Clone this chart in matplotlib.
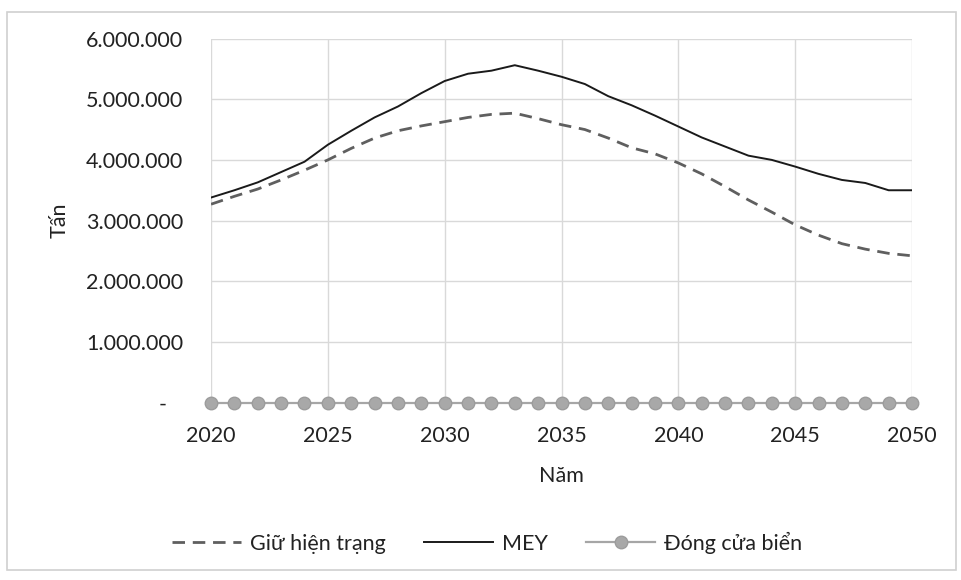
import matplotlib
matplotlib.use("Agg")
import matplotlib.pyplot as plt
from matplotlib.patches import Rectangle

plt.rcParams['font.family'] = ['Lato', 'DejaVu Sans']

years = list(range(2020, 2051))

# Catch (tonnes) under each management scenario
giu_hien_trang = [3.27, 3.40, 3.52, 3.67, 3.83, 4.00, 4.19, 4.36, 4.48, 4.56,
                  4.63, 4.70, 4.75, 4.77, 4.68, 4.58, 4.50, 4.36, 4.20, 4.10,
                  3.95, 3.77, 3.56, 3.34, 3.14, 2.93, 2.76, 2.62, 2.53, 2.46, 2.42]
mey = [3.38, 3.50, 3.63, 3.80, 3.97, 4.25, 4.48, 4.70, 4.88, 5.10,
       5.30, 5.42, 5.47, 5.56, 5.47, 5.37, 5.25, 5.05, 4.90, 4.73,
       4.55, 4.37, 4.22, 4.07, 4.00, 3.89, 3.77, 3.67, 3.62, 3.50, 3.50]
dong_cua_bien = [0.0] * len(years)

giu_hien_trang = [v * 1e6 for v in giu_hien_trang]
mey = [v * 1e6 for v in mey]

series_labels = ["Giữ hiện trạng", "MEY", "Đóng cửa biển"]
y_ticks = [0, 1e6, 2e6, 3e6, 4e6, 5e6, 6e6]
y_tick_labels = ["-   ", "1.000.000", "2.000.000", "3.000.000",
                 "4.000.000", "5.000.000", "6.000.000"]
x_ticks = [2020, 2025, 2030, 2035, 2040, 2045, 2050]

fig = plt.figure(figsize=(9.61, 5.80), dpi=100)
ax = fig.add_axes([0.2196, 0.3057, 0.7294, 0.6279])

grid_color = "#d9d9d9"
ax.plot(years, giu_hien_trang, color="#5f5f5f", lw=2.0, dashes=(4.5, 2.8),
        label=series_labels[0], zorder=3)
ax.plot(years, mey, color="#1a1a1a", lw=1.4, label=series_labels[1], zorder=3)
ax.plot(years, dong_cua_bien, color="#a6a6a6", lw=1.6, marker="o",
        markersize=9, markerfacecolor="#a8a8a8", markeredgecolor="#9c9c9c",
        label=series_labels[2], clip_on=False, zorder=4)

ax.set_xlim(2020, 2050)
ax.set_ylim(0, 6e6)
ax.set_xticks(x_ticks)
ax.set_xticklabels([str(x) for x in x_ticks])
ax.set_yticks(y_ticks)
ax.set_yticklabels(y_tick_labels)
ax.tick_params(axis="both", length=0, labelsize=15.5, colors="#222222")
ax.tick_params(axis="y", pad=20)
ax.tick_params(axis="x", pad=17)
ax.grid(True, color=grid_color, lw=1.0)
ax.set_axisbelow(True)
for s in ax.spines.values():
    s.set_visible(False)

ax.set_ylabel("Tấn", fontsize=15.5, color="#222222", labelpad=12)
ax.set_xlabel("Năm", fontsize=15.5, color="#222222", labelpad=14)

handles, labels = ax.get_legend_handles_labels()
fig.legend(handles, labels, loc="center", bbox_to_anchor=(0.507, 0.064),
           ncol=3, frameon=False, fontsize=15.5, handlelength=3.2,
           handletextpad=0.4, columnspacing=1.8, labelcolor="#222222")

fig.patches.append(Rectangle((0.007, 0.017), 0.988, 0.963,
                             transform=fig.transFigure, fill=False,
                             edgecolor="#d0d0d0", lw=1.2))

fig.savefig("out.png", dpi=100, facecolor="white")
